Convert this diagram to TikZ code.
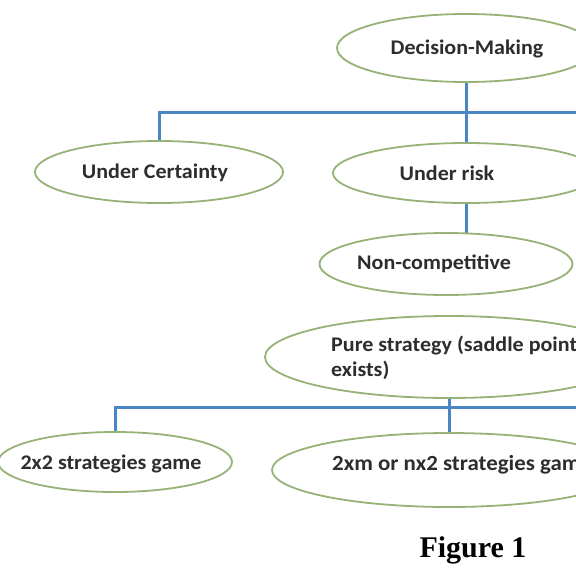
\documentclass[tikz,border=0pt]{standalone}
\usepackage{fontspec}
\setmainfont{Carlito}[FakeStretch=1.06]
\newfontfamily\figfont{Liberation Serif}
\usetikzlibrary{shapes.geometric,backgrounds}
\definecolor{linkblue}{RGB}{74,134,196}
\definecolor{ovalgreen}{RGB}{150,178,118}
\definecolor{txt}{RGB}{45,45,45}
\tikzset{
  oval/.style={ellipse, draw=ovalgreen, line width=1.8pt, fill=white, inner sep=0pt},
  lbl/.style={font=\fontsize{20.8}{25}\selectfont\bfseries, text=txt, inner sep=0pt},
  link/.style={draw=linkblue, line width=3pt}
}
\begin{document}
\begin{tikzpicture}[x=1pt,y=-1pt]
\useasboundingbox (0,0) rectangle (576,576);
\clip (0,0) rectangle (576,576);
% ovals
\node[oval, minimum width=258pt, minimum height=68pt] (dm) at (466,48) {};
\node[oval, minimum width=248pt, minimum height=62pt] (cert) at (159,172) {};
\node[oval, minimum width=266pt, minimum height=60pt] (risk) at (466,173) {};
\node[oval, minimum width=253pt, minimum height=62pt] (nc) at (446,264) {};
\node[oval, minimum width=368pt, minimum height=82pt] (pure) at (449,357) {};
\node[oval, minimum width=234pt, minimum height=60pt] (tt) at (115,462) {};
\node[oval, minimum width=354pt, minimum height=74pt] (tm) at (449,470) {};
% texts
\node[lbl] (tdm) at (467,49) {Decision-Making};
\node[lbl] (tcert) at (155,173) {Under Certainty};
\node[lbl] (trisk) at (447,173) {Under risk};
\node[lbl] (tnc) at (434,264) {Non-competitive};
\node[lbl, anchor=west, align=left] (tpure) at (331,358) {Pure strategy (saddle point\\exists)};
\node[lbl] (ttt) at (111,464) {2x2 strategies game};
\node[lbl, font=\fontsize{21.6}{25}\selectfont\bfseries, anchor=west] (ttm) at (332,465) {2xm or nx2 strategies gam};
\node[font=\figfont\fontsize{30}{32}\selectfont\bfseries, text=black, inner sep=0pt] (fig) at (473,550) {Figure 1};
% connectors
\coordinate (j1) at (466,112);
\coordinate (r1) at (620,112);
\coordinate (j2) at (449,407);
\coordinate (r2) at (620,407);
\begin{scope}[on background layer]
\draw[link] (cert.center) |- (r1);
\draw[link] (dm.center) -- (j1) -- (risk.center);
\draw[link] (risk.center) -- (risk.center |- nc.center);
\draw[link] (tt.center) |- (r2);
\draw[link] (pure.center) -- (j2) -- (tm.center);
\end{scope}
\end{tikzpicture}
\end{document}
